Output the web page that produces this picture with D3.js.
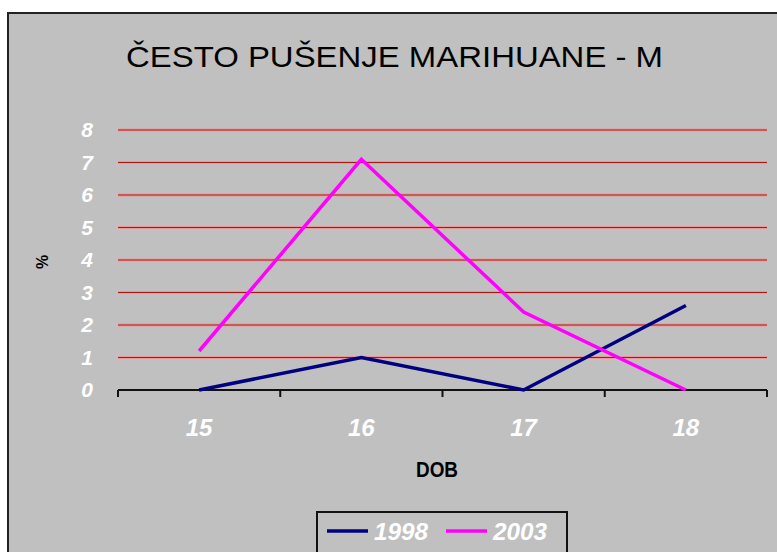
<!DOCTYPE html>
<html>
<head>
<meta charset="utf-8">
<script src="https://cdn.jsdelivr.net/npm/d3@7"></script>
<style>
  html, body { margin: 0; padding: 0; background: #ffffff; }
  svg { display: block; }
</style>
</head>
<body>
<svg id="chart" width="777" height="552"></svg>
<script>
// Age groups and share of frequent marijuana smokers (%) per survey year
const ages = ["15", "16", "17", "18"];
const values1998 = [0, 1.0, 0, 2.6];
const values2003 = [1.2, 7.1, 2.4, 0];
const yTicks = [0, 1, 2, 3, 4, 5, 6, 7, 8];
const seriesNames = ["1998", "2003"];
const seriesColors = ["#000080", "#ff00ff"];

const svg = d3.select("#chart");
const W = 777, H = 552;

// chart area frame
svg.append("rect")
  .attr("x", 8).attr("y", 13)
  .attr("width", W).attr("height", H)
  .attr("fill", "#c0c0c0")
  .attr("stroke", "#222").attr("stroke-width", 2);

const plot = { left: 118, right: 767, top: 130, bottom: 390 };

const x = d3.scaleBand().domain(ages).range([plot.left, plot.right]);
const y = d3.scaleLinear().domain([0, 8]).range([plot.bottom, plot.top]);

// title
svg.append("text")
  .attr("x", 126).attr("y", 67)
  .attr("font-family", "'Liberation Sans', Arial, sans-serif")
  .attr("font-size", 30)
  .attr("fill", "#000")
  .attr("textLength", 537)
  .attr("lengthAdjust", "spacingAndGlyphs")
  .text("ČESTO PUŠENJE MARIHUANE - M");

// horizontal gridlines
svg.append("g")
  .selectAll("line")
  .data(yTicks.filter(d => d > 0))
  .join("line")
  .attr("x1", plot.left).attr("x2", plot.right)
  .attr("y1", d => y(d)).attr("y2", d => y(d))
  .attr("stroke", "#ff8080").attr("stroke-width", 3).attr("opacity", 0.6);
svg.append("g")
  .selectAll("line")
  .data(yTicks.filter(d => d > 0))
  .join("line")
  .attr("x1", plot.left).attr("x2", plot.right)
  .attr("y1", d => y(d)).attr("y2", d => y(d))
  .attr("stroke", "#b01818").attr("stroke-width", 1.2);

// y axis labels
const tickFont = "'Liberation Sans', Arial, sans-serif";
svg.append("g")
  .selectAll("text")
  .data(yTicks)
  .join("text")
  .attr("x", 93)
  .attr("y", d => y(d) + 7)
  .attr("text-anchor", "end")
  .attr("font-family", tickFont)
  .attr("font-size", 21)
  .attr("font-weight", "bold")
  .attr("font-style", "italic")
  .attr("fill", "#ffffff")
  .text(d => d);

svg.append("text")
  .attr("transform", "translate(48,262) rotate(-90)")
  .attr("text-anchor", "middle")
  .attr("font-family", tickFont)
  .attr("font-size", 16)
  .attr("font-weight", "bold")
  .attr("fill", "#000")
  .text("%");

// x axis with category boundary ticks
const xAxis = d3.axisBottom(x).tickSize(0).tickFormat("");
const gx = svg.append("g").attr("transform", `translate(0,${plot.bottom})`).call(xAxis);
gx.select(".domain").attr("stroke", "#111").attr("stroke-width", 2).attr("d", `M${plot.left},0H${plot.right}`);
const bounds = ages.map(a => x(a)).concat([x(ages[ages.length - 1]) + x.bandwidth()]);
svg.append("g")
  .selectAll("line")
  .data(bounds)
  .join("line")
  .attr("x1", d => d).attr("x2", d => d)
  .attr("y1", plot.bottom).attr("y2", plot.bottom + 7)
  .attr("stroke", "#111").attr("stroke-width", 2);

svg.append("g")
  .selectAll("text")
  .data(ages)
  .join("text")
  .attr("x", d => x(d) + x.bandwidth() / 2)
  .attr("y", 436)
  .attr("text-anchor", "middle")
  .attr("font-family", tickFont)
  .attr("font-size", 24)
  .attr("font-weight", "bold")
  .attr("font-style", "italic")
  .attr("fill", "#ffffff")
  .text(d => d);

svg.append("text")
  .attr("x", 437).attr("y", 477)
  .attr("text-anchor", "middle")
  .attr("font-family", tickFont)
  .attr("font-size", 22)
  .attr("font-weight", "bold")
  .attr("fill", "#000")
  .attr("textLength", 42)
  .attr("lengthAdjust", "spacingAndGlyphs")
  .text("DOB");

// series lines
const line = d3.line()
  .x((d, i) => x(ages[i]) + x.bandwidth() / 2)
  .y(d => y(d));

[values1998, values2003].forEach((vals, i) => {
  svg.append("path")
    .datum(vals)
    .attr("fill", "none")
    .attr("stroke", seriesColors[i])
    .attr("stroke-width", 3.5)
    .attr("stroke-linejoin", "miter")
    .attr("d", line);
});

// legend
const legend = svg.append("g");
legend.append("rect")
  .attr("x", 317).attr("y", 512)
  .attr("width", 250).attr("height", 50)
  .attr("fill", "none")
  .attr("stroke", "#111").attr("stroke-width", 2);
const legendX = [327, 446];
seriesNames.forEach((name, i) => {
  legend.append("line")
    .attr("x1", legendX[i]).attr("x2", legendX[i] + 41)
    .attr("y1", 531).attr("y2", 531)
    .attr("stroke", seriesColors[i]).attr("stroke-width", 3.5);
  legend.append("text")
    .attr("x", legendX[i] + 47).attr("y", 540)
    .attr("font-family", tickFont)
    .attr("font-size", 24)
    .attr("font-weight", "bold")
    .attr("font-style", "italic")
    .attr("fill", "#ffffff")
    .attr("textLength", 54)
    .attr("lengthAdjust", "spacingAndGlyphs")
    .text(name);
});
</script>
</body>
</html>
